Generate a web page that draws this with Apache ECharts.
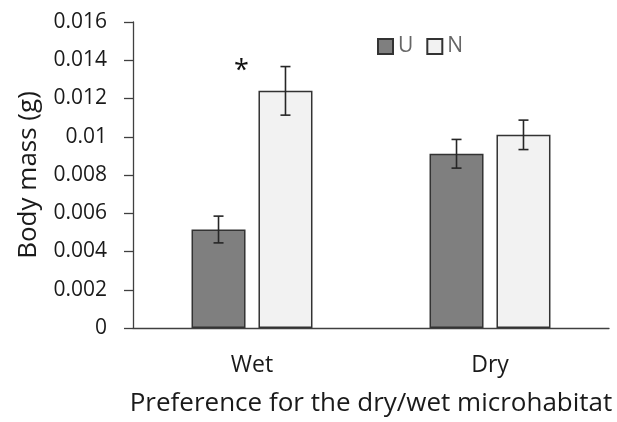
<!DOCTYPE html>
<html>
<head>
<meta charset="utf-8">
<script src="https://cdn.jsdelivr.net/npm/echarts@6/dist/echarts.min.js"></script>
<style>html,body{margin:0;padding:0;background:#fff;}#c{width:617px;height:422px;}</style>
</head>
<body>
<div id="c"></div>
<script>
var categories = ['Wet', 'Dry'];
var seriesNames = ['U', 'N'];
var uMean = [0.00515, 0.00911];
var uErr = [0.0007, 0.00075];
var nMean = [0.0124, 0.0101];
var nErr = [0.00127, 0.00077];
var nStar = ['*', ''];
var yTickValues = [0, 0.002, 0.004, 0.006, 0.008, 0.01, 0.012, 0.014, 0.016];
var yTickLabels = ['0', '0.002', '0.004', '0.006', '0.008', '0.01', '0.012', '0.014', '0.016'];

var FONT = 'Open Sans';
var BAR_W = 54, BAR_GAP = 0.24;
var OFF = (BAR_W + BAR_W * BAR_GAP) / 2;

function errData(means, errs, marks) {
  return means.map(function (m, i) {
    return [i, m - errs[i], m + errs[i], marks ? marks[i] : ''];
  });
}

function errRender(offset) {
  return function (params, api) {
    var lo = api.coord([api.value(0), api.value(1)]);
    var hi = api.coord([api.value(0), api.value(2)]);
    var x = lo[0] + offset;
    var cap = 5;
    var st = { stroke: '#262626', lineWidth: 1.6 };
    var children = [
      { type: 'line', shape: { x1: x, y1: lo[1], x2: x, y2: hi[1] }, style: st },
      { type: 'line', shape: { x1: x - cap, y1: lo[1], x2: x + cap, y2: lo[1] }, style: st },
      { type: 'line', shape: { x1: x - cap, y1: hi[1], x2: x + cap, y2: hi[1] }, style: st }
    ];
    var mark = api.value(3);
    if (mark) {
      children.push({
        type: 'text',
        style: { text: mark, x: x - 44, y: hi[1] + 5, fill: '#111', font: '27px "' + FONT + '"', align: 'center', verticalAlign: 'middle' }
      });
    }
    return { type: 'group', children: children };
  };
}

var chart = echarts.init(document.getElementById('c'), null, { renderer: 'canvas' });
chart.setOption({
  animation: false,
  backgroundColor: '#fff',
  textStyle: { fontFamily: FONT },
  grid: { left: 133, right: 8, top: 22, bottom: 87, containLabel: false },
  legend: {
    data: seriesNames,
    left: 372, top: 31,
    icon: 'rect', itemWidth: 15, itemHeight: 15, itemGap: 13,
    textStyle: { color: '#666666', fontSize: 21, fontFamily: FONT, padding: [0, 0, 0, 0] }
  },
  xAxis: {
    type: 'category',
    data: categories,
    axisLine: { lineStyle: { color: '#404040', width: 1.3 } },
    axisTick: { show: false },
    axisLabel: { color: '#1a1a1a', fontSize: 23, margin: 26, fontFamily: FONT },
    name: 'Preference for the dry/wet microhabitat',
    nameLocation: 'middle', nameGap: 63,
    nameTextStyle: { color: '#1a1a1a', fontSize: 26, fontFamily: FONT }
  },
  yAxis: {
    type: 'value',
    min: 0, max: 0.016, interval: 0.002,
    splitLine: { show: false },
    axisLine: { show: true, lineStyle: { color: '#404040', width: 1.3 } },
    axisTick: { show: true, inside: false, length: 9, lineStyle: { color: '#404040', width: 1.3 } },
    axisLabel: {
      color: '#1a1a1a', fontSize: 21, margin: 26, fontFamily: FONT,
      formatter: function (v) {
        for (var i = 0; i < yTickValues.length; i++) {
          if (Math.abs(yTickValues[i] - v) < 1e-9) return yTickLabels[i];
        }
        return '';
      }
    },
    name: 'Body mass (g)',
    nameLocation: 'middle', nameGap: 91,
    nameTextStyle: { color: '#1a1a1a', fontSize: 26, fontFamily: FONT }
  },
  series: [
    {
      name: 'U', type: 'bar', data: uMean, barWidth: BAR_W, barGap: (BAR_GAP * 100) + '%',
      itemStyle: { color: '#7f7f7f', borderColor: '#333333', borderWidth: 1.5 }
    },
    {
      name: 'N', type: 'bar', data: nMean, barWidth: BAR_W,
      itemStyle: { color: '#f2f2f2', borderColor: '#333333', borderWidth: 1.5 }
    },
    {
      type: 'custom', name: 'errU', renderItem: errRender(-OFF),
      data: errData(uMean, uErr), z: 10, silent: true,
      encode: { x: 0, y: [1, 2] }
    },
    {
      type: 'custom', name: 'errN', renderItem: errRender(OFF),
      data: errData(nMean, nErr, nStar), z: 10, silent: true,
      encode: { x: 0, y: [1, 2] }
    }
  ]
});
</script>
</body>
</html>
